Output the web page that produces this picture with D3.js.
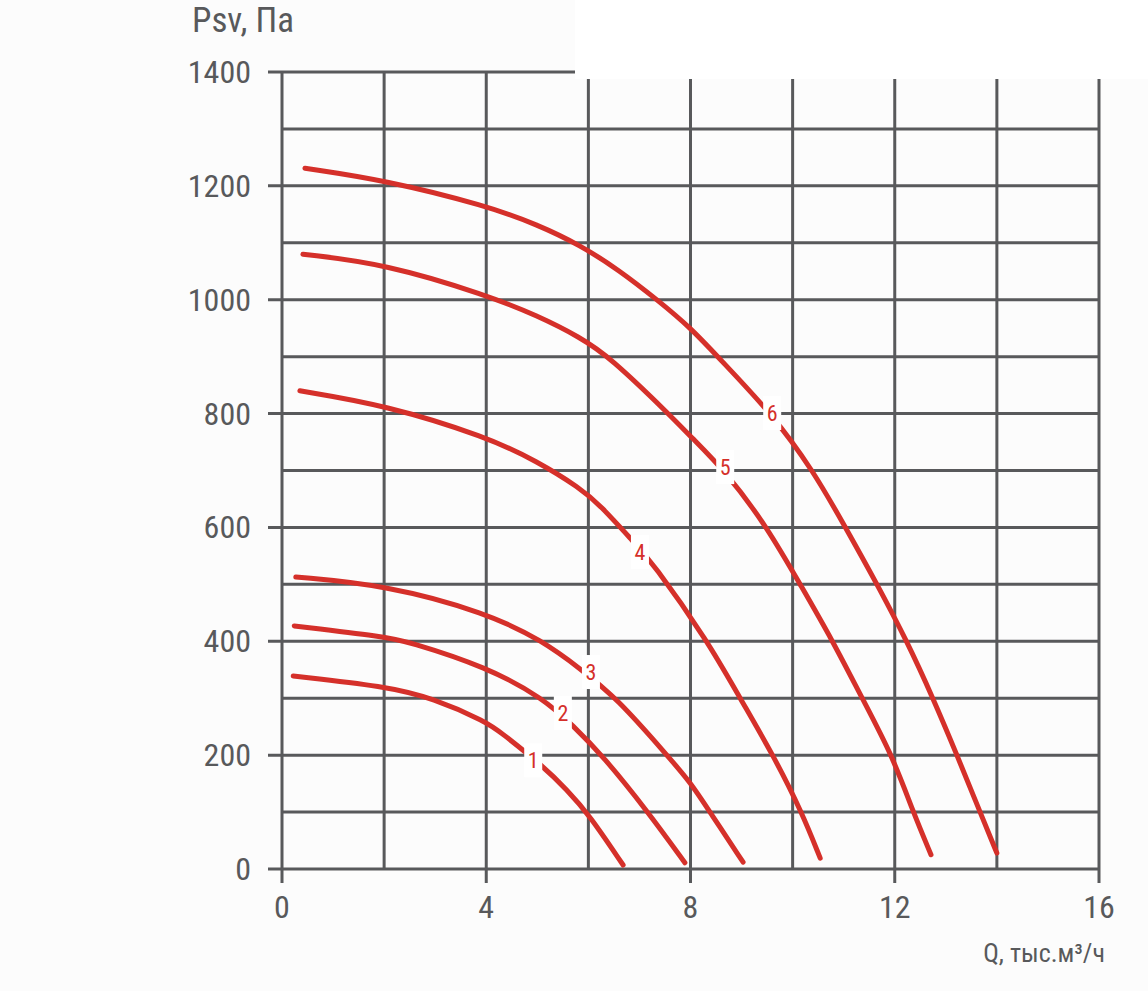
<!DOCTYPE html>
<html>
<head>
<meta charset="utf-8">
<script src="https://cdn.jsdelivr.net/npm/d3@7"></script>
<style>
  body { margin: 0; background: #fcfcfc; }
  text { font-family: "Liberation Sans Narrow", "Roboto Condensed", "DejaVu Sans Condensed", sans-serif; }
</style>
</head>
<body>
<div class="chart"></div>
<script>
let w = 1148;
let h = 991;

// curves: Q (thousand m3/h) and Psv (Pa)
const q1 = [0.22, 2.02, 2.96, 4.01, 4.27, 5.11, 5.58, 6.01, 6.68];
const p1 = [339, 321, 300, 258, 241, 181, 139, 96, 7];
const q2 = [0.24, 2.02, 2.45, 4.01, 5.11, 5.7, 6.29, 7.17, 7.89];
const p2 = [427, 408, 400, 355, 300, 252, 198, 100, 11];
const q3 = [0.27, 2.02, 4.01, 5.1, 5.84, 6.56, 7.54, 8.01, 8.38, 9.03];
const p3 = [513, 499, 450, 401, 352, 300, 200, 151, 100, 12];
const q4 = [0.35, 2.02, 4.01, 5.0, 5.84, 6.23, 6.87, 7.25, 8.34, 8.97, 9.62, 10.18, 10.54];
const p4 = [840, 815, 759, 716, 669, 639, 576, 539, 400, 300, 200, 100, 19];
const q5 = [0.41, 2.02, 4.01, 5.0, 5.84, 6.42, 7.58, 8.01, 8.68, 9.5, 10.14, 10.79, 11.36, 11.95, 12.36, 12.71];
const p5 = [1080, 1063, 1008, 972, 934, 899, 799, 759, 699, 601, 501, 400, 300, 200, 100, 25];
const q6 = [0.45, 2.02, 4.01, 5.0, 5.84, 6.6, 7.36, 8.01, 8.54, 9.6, 10.4, 11.03, 11.65, 12.24, 12.75, 13.22, 13.67, 14.0];
const p6 = [1231, 1210, 1165, 1132, 1096, 1052, 999, 950, 899, 799, 700, 601, 501, 400, 300, 200, 100, 28];

const curveNames = ["1", "2", "3", "4", "5", "6"];
const labelQ = [4.92, 5.5, 6.05, 7.01, 8.68, 9.6];
const labelP = [191, 274, 346, 557, 706, 801];

const xTicks = [0, 4, 8, 12, 16];
const yTicks = [0, 200, 400, 600, 800, 1000, 1200, 1400];
const xGrid = d3.range(0, 17, 2);
const yGrid = d3.range(0, 1401, 100);

const gridColor = "#58595b";
const red = "#d5302a";

const svg = d3.select(".chart")
              .append("svg")
              .attr("width", w)
              .attr("height", h)

const xScale = d3.scaleLinear().domain([0, 16]).range([282, 1099]);
const yScale = d3.scaleLinear().domain([0, 1400]).range([869, 72]);

// horizontal grid
svg.selectAll(".hgrid")
   .data(yGrid)
   .enter()
   .append("line")
   .attr("x1", (d) => yTicks.includes(d) ? xScale(0) - 14 : xScale(0))
   .attr("x2", xScale(16))
   .attr("y1", (d) => yScale(d))
   .attr("y2", (d) => yScale(d))
   .style("stroke", gridColor)
   .style("stroke-width", 3)

// vertical grid
svg.selectAll(".vgrid")
   .data(xGrid)
   .enter()
   .append("line")
   .attr("x1", (d) => xScale(d))
   .attr("x2", (d) => xScale(d))
   .attr("y1", yScale(1400))
   .attr("y2", (d) => xTicks.includes(d) ? yScale(0) + 14 : yScale(0))
   .style("stroke", gridColor)
   .style("stroke-width", 3)

// white patch on top right
svg.append("rect")
   .attr("x", 575)
   .attr("y", 0)
   .attr("width", w - 575)
   .attr("height", 79)
   .style("fill", "#ffffff")

// tick labels
svg.selectAll(".ylab")
   .data(yTicks)
   .enter()
   .append("text")
   .attr("x", 251)
   .attr("y", (d) => yScale(d) + 11)
   .attr("text-anchor", "end")
   .style("font-size", "32px")
   .style("fill", gridColor)
   .text((d) => d)

svg.selectAll(".xlab")
   .data(xTicks)
   .enter()
   .append("text")
   .attr("x", (d) => xScale(d))
   .attr("y", 918)
   .attr("text-anchor", "middle")
   .style("font-size", "32px")
   .style("fill", gridColor)
   .text((d) => d)

svg.append("text")
   .attr("x", 192)
   .attr("y", 32)
   .style("font-size", "35px")
   .style("fill", gridColor)
   .text("Psv, Па")

svg.append("text")
   .attr("x", 1105)
   .attr("y", 962)
   .attr("text-anchor", "end")
   .style("font-size", "26px")
   .style("fill", gridColor)
   .text("Q, тыс.м³/ч")

// curves
const qs = [q1, q2, q3, q4, q5, q6];
const ps = [p1, p2, p3, p4, p5, p6];
const curves = qs.map((q, i) => q.map((v, j) => [v, ps[i][j]]));

const line = d3.line()
               .x((d) => xScale(d[0]))
               .y((d) => yScale(d[1]))
               .curve(d3.curveBasis)

svg.selectAll(".curve")
   .data(curves)
   .enter()
   .append("path")
   .attr("d", line)
   .style("fill", "none")
   .style("stroke", red)
   .style("stroke-width", 5)
   .style("stroke-linecap", "round")

// curve number labels
svg.selectAll(".numbox")
   .data(curveNames)
   .enter()
   .append("rect")
   .attr("x", (d, i) => xScale(labelQ[i]) - 9)
   .attr("y", (d, i) => yScale(labelP[i]) - 17)
   .attr("width", 18)
   .attr("height", 34)
   .style("fill", "#ffffff")

svg.selectAll(".num")
   .data(curveNames)
   .enter()
   .append("text")
   .attr("x", (d, i) => xScale(labelQ[i]))
   .attr("y", (d, i) => yScale(labelP[i]) + 8)
   .attr("text-anchor", "middle")
   .style("font-size", "22px")
   .style("fill", red)
   .text((d) => d)
</script>
</body>
</html>
